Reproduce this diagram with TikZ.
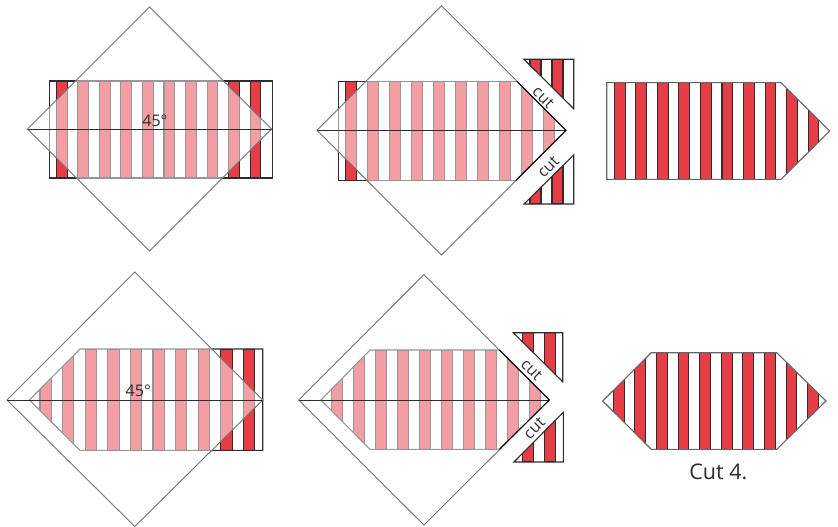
\documentclass[tikz,border=0pt]{standalone}
\usepackage{fontspec}
\setmainfont{Open Sans}
\usepackage{xcolor}
\definecolor{stripered}{RGB}{230,61,71}
\definecolor{inkline}{RGB}{45,45,45}
\newcommand{\redbars}[5]{%
  \foreach \k in {1,...,#3}{%
    \pgfmathsetmacro{\bx}{#1+2*(\k-1)*#2}
    \draw[redbar] (\bx,#4) rectangle ++(#2,#5-#4);
  }%
}
\begin{document}
\begin{tikzpicture}[
    x=1pt, y=-1pt,
    redbar/.style={fill=stripered, draw=inkline, line width=1.1pt},
    sheet/.style={draw=inkline, line width=1.1pt},
    overlay sq/.style={draw=black!55, line width=.9pt, fill=white, fill opacity=.5},
    axis/.style={draw=inkline, line width=1pt},
    cutline/.style={draw=black, line width=1pt},
    lbl/.style={font=\fontsize{16}{16}\selectfont, text=inkline, inner sep=0pt},
    caption/.style={font=\fontsize{21.5}{21.5}\selectfont, text=inkline, inner sep=0pt},
  ]
  \useasboundingbox (0,0) rectangle (838,527);

  % top left, square over the full strip
  \redbars{56.3}{10.77}{10}{81}{178}
  \draw[sheet] (49.3,81) rectangle (272.5,178);
  \path[overlay sq] (27.5,129) -- (149.5,7) -- (271.5,129) -- (149.5,251) -- cycle;
  \draw[axis] (27.5,129) -- (271.5,129);
  \node[lbl] (angleA) at (155,121) {45°};

  % top middle, strip cut along the square
  \begin{scope}
    \clip (338.3,81.3) -- (516.9,81.3) -- (555.7,120) -- (555.7,140.6) -- (516,180.3) -- (338.3,180.3) -- cycle;
    \redbars{345.3}{11}{10}{81.3}{180.3}
  \end{scope}
  \draw[sheet] (516.9,81.3) -- (338.3,81.3) -- (338.3,180.3) -- (516,180.3);
  \path[overlay sq] (317,130.3) -- (441.5,5.8) -- (566,130.3) -- (441.5,255) -- cycle;
  \draw[axis] (317,130.3) -- (566,130.3);
  \draw[cutline] (516.9,81.3) -- (566,130.3) -- (516,180.3);
  \begin{scope}
    \clip (524,59.3) -- (573.7,59.3) -- (573.7,108.7) -- cycle;
    \redbars{530}{11}{2}{59.3}{108.7}
  \end{scope}
  \draw[sheet] (524,59.3) -- (573.7,59.3) -- (573.7,108.7) -- cycle;
  \begin{scope}
    \clip (524,204) -- (573.7,204) -- (573.7,155) -- cycle;
    \redbars{530}{11}{2}{155}{204}
  \end{scope}
  \draw[sheet] (524,204) -- (573.7,204) -- (573.7,155) -- cycle;
  \node[lbl, rotate=-45] (cutA) at (543.3,97.3) {cut};
  \node[lbl, rotate=45] (cutB) at (548.3,166.7) {cut};

  % top right, finished point
  \begin{scope}
    \clip (606.7,82.7) -- (781,82.7) -- (829.7,131) -- (781,179.3) -- (606.7,179.3) -- cycle;
    \redbars{614.3}{10.77}{10}{82.7}{179.3}
  \end{scope}
  \draw[sheet, draw=black!60] (606.7,82.7) -- (781,82.7) -- (829.7,131) -- (781,179.3) -- (606.7,179.3) -- cycle;

  % bottom left, other end under the square
  \begin{scope}
    \clip (29.3,400) -- (80,349) -- (262.7,349) -- (262.7,450.3) -- (80,450.3) -- cycle;
    \redbars{40}{11.3}{10}{349}{450.3}
  \end{scope}
  \draw[sheet] (29.3,400) -- (80,349) -- (262.7,349) -- (262.7,450.3) -- (80,450.3) -- cycle;
  \path[overlay sq] (7,400) -- (134.8,272) -- (262.7,400) -- (134.8,526.5) -- cycle;
  \draw[axis] (7,400) -- (262.7,400);
  \node[lbl] (angleB) at (138.3,391) {45°};

  % bottom middle, second end cut
  \begin{scope}
    \clip (321,400) -- (370,350) -- (499.3,350) -- (541.7,392) -- (541.7,408) -- (499.3,449.3) -- (370,449.3) -- cycle;
    \redbars{331.3}{11}{10}{350}{449.3}
  \end{scope}
  \draw[sheet] (499.3,350) -- (370,350) -- (321,400) -- (370,449.3) -- (499.3,449.3);
  \path[overlay sq] (298.7,400) -- (423.9,274.7) -- (549.3,400) -- (423.9,525) -- cycle;
  \draw[axis] (298.7,400) -- (549.3,400);
  \draw[cutline] (499.3,350) -- (549.3,400) -- (499.3,449.3);
  \begin{scope}
    \clip (513.3,332.7) -- (562.7,332.7) -- (562.7,381.7) -- cycle;
    \redbars{522.3}{11}{2}{332.7}{381.7}
  \end{scope}
  \draw[sheet] (513.3,332.7) -- (562.7,332.7) -- (562.7,381.7) -- cycle;
  \begin{scope}
    \clip (514,462) -- (563.3,462) -- (563.3,412.3) -- cycle;
    \redbars{522.3}{11}{2}{412.3}{462}
  \end{scope}
  \draw[sheet] (514,462) -- (563.3,462) -- (563.3,412.3) -- cycle;
  \node[lbl, rotate=-45] (cutC) at (531.7,370) {cut};
  \node[lbl, rotate=45] (cutD) at (534.3,428.3) {cut};

  % bottom right, finished both ends
  \begin{scope}
    \clip (602.7,401) -- (651.3,352.7) -- (776.7,352.7) -- (826,401) -- (776.7,449.3) -- (651.3,449.3) -- cycle;
    \redbars{613.3}{10.8}{10}{352.7}{449.3}
  \end{scope}
  \draw[sheet, draw=black!60] (602.7,401) -- (651.3,352.7) -- (776.7,352.7) -- (826,401) -- (776.7,449.3) -- (651.3,449.3) -- cycle;
  \node[caption] (cutname) at (718.3,472.3) {Cut 4.};
\end{tikzpicture}
\end{document}
